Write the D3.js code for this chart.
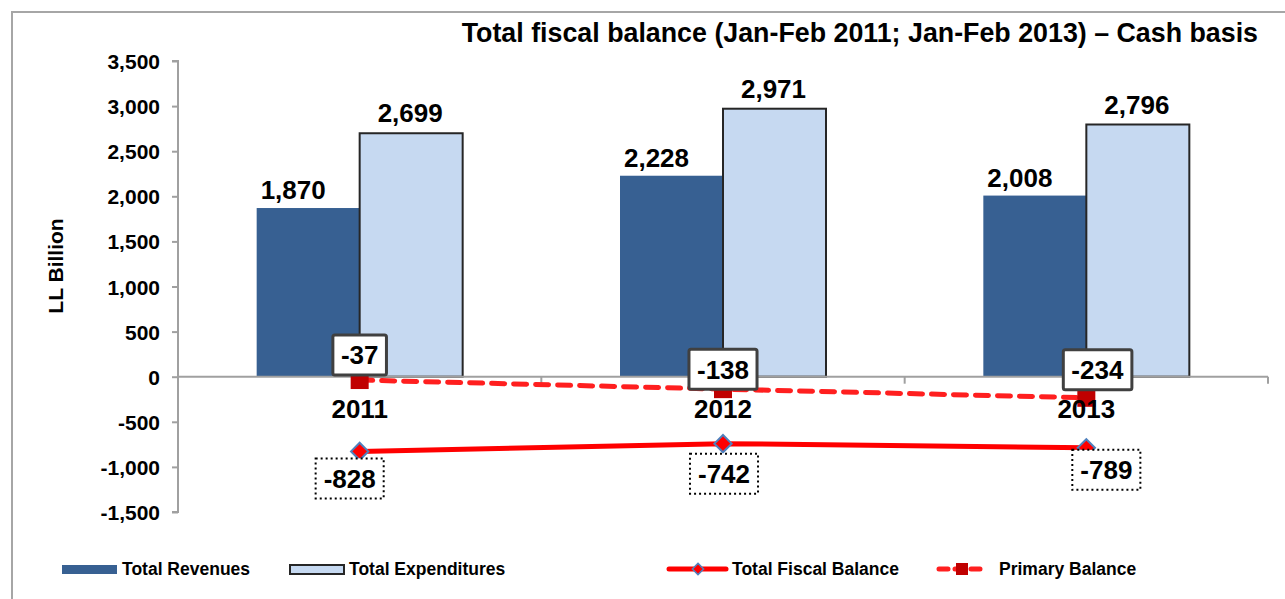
<!DOCTYPE html>
<html>
<head>
<meta charset="utf-8">
<script src="https://cdn.jsdelivr.net/npm/d3@7"></script>
<style>
  body { margin: 0; background: #fff; }
  svg text { font-family: "Liberation Sans", Arial, sans-serif; font-weight: bold; fill: #000; }
</style>
</head>
<body>
<div id="chart"></div>
<script>
// chart data
var years = ["2011", "2012", "2013"];
var revenues = [1870, 2228, 2008];
var expenditures = [2699, 2971, 2796];
var fiscalBalance = [-828, -742, -789];
var primaryBalance = [-37, -138, -234];
var yTicks = [3500, 3000, 2500, 2000, 1500, 1000, 500, 0, -500, -1000, -1500];
var legendNames = ["Total Revenues", "Total Expenditures", "Total Fiscal Balance", "Primary Balance"];

var W = 1285, H = 599;
var svg = d3.select("#chart").append("svg")
  .attr("width", W).attr("height", H);

// outer frame
svg.append("rect")
  .attr("x", 12).attr("y", 12).attr("width", W + 20).attr("height", H + 20)
  .attr("fill", "none").attr("stroke", "#a6a6a6").attr("stroke-width", 2);

var plotLeft = 178, plotRight = 1268, plotTop = 61, plotBottom = 512;

var x = d3.scaleBand().domain(years).range([plotLeft, plotRight]);
var y = d3.scaleLinear().domain([-1500, 3500]).range([plotBottom, plotTop]);
var comma = d3.format(",");
// plain hyphen for negatives, like the original
function fmt(v) { return comma(v).replace("\u2212", "-"); }

// title
svg.append("text")
  .attr("x", 1258).attr("y", 42)
  .attr("text-anchor", "end")
  .style("font-size", "26.8px")
  .text("Total fiscal balance (Jan-Feb 2011; Jan-Feb 2013) \u2013 Cash basis");

// y axis title
svg.append("text")
  .attr("transform", "translate(63,266) rotate(-90)")
  .attr("text-anchor", "middle")
  .style("font-size", "21px")
  .text("LL Billion");

// y axis
var yAxis = svg.append("g")
  .attr("transform", "translate(" + plotLeft + ",0)")
  .call(d3.axisLeft(y).tickValues(yTicks).tickSize(6).tickPadding(12).tickFormat(fmt));
yAxis.selectAll("path, line").attr("stroke", "#a0a0a0").attr("stroke-width", 2);
yAxis.select(".domain").attr("d", "M-6," + plotTop + "H0V" + plotBottom + "H-6");
yAxis.selectAll("text").style("font-size", "21px").attr("dy", "0.36em");

// bars
var barW = 103;
var groups = svg.selectAll(".cat").data(years).enter().append("g")
  .attr("class", "cat");

groups.append("rect")
  .attr("x", function(d) { return x(d) + x.bandwidth() / 2 - barW; })
  .attr("y", function(d, i) { return y(revenues[i]); })
  .attr("width", barW)
  .attr("height", function(d, i) { return y(0) - y(revenues[i]); })
  .attr("fill", "#376092");

groups.append("rect")
  .attr("x", function(d) { return x(d) + x.bandwidth() / 2; })
  .attr("y", function(d, i) { return y(expenditures[i]); })
  .attr("width", barW)
  .attr("height", function(d, i) { return y(0) - y(expenditures[i]); })
  .attr("fill", "#c6d9f1")
  .attr("stroke", "#262626").attr("stroke-width", 2);

groups.append("text")
  .attr("x", function(d) { return x(d) + x.bandwidth() / 2 - barW / 2 - 15; })
  .attr("y", function(d, i) { return y(revenues[i]) - 9; })
  .attr("text-anchor", "middle")
  .style("font-size", "26px")
  .text(function(d, i) { return fmt(revenues[i]); });

groups.append("text")
  .attr("x", function(d) { return x(d) + x.bandwidth() / 2 + barW / 2 - 1; })
  .attr("y", function(d, i) { return y(expenditures[i]) - 11; })
  .attr("text-anchor", "middle")
  .style("font-size", "26px")
  .text(function(d, i) { return fmt(expenditures[i]); });

// x axis at zero
var xAxis = svg.append("g").attr("transform", "translate(0," + y(0) + ")");
xAxis.append("line")
  .attr("x1", plotLeft).attr("x2", plotRight)
  .attr("stroke", "#a0a0a0").attr("stroke-width", 2);
xAxis.selectAll(".tk").data(years).enter().append("line")
  .attr("x1", function(d) { return x(d) + x.bandwidth(); })
  .attr("x2", function(d) { return x(d) + x.bandwidth(); })
  .attr("y1", 0).attr("y2", 7)
  .attr("stroke", "#a0a0a0").attr("stroke-width", 2);

function cx(d) { return x(d) + x.bandwidth() / 2; }

// total fiscal balance line
svg.append("path")
  .datum(years)
  .attr("fill", "none").attr("stroke", "#ff0000").attr("stroke-width", 5)
  .attr("d", d3.line().x(cx).y(function(d, i) { return y(fiscalBalance[i]); }));

// primary balance line
svg.append("path")
  .datum(years)
  .attr("fill", "none").attr("stroke", "#ff1f1f").attr("stroke-width", 5)
  .attr("stroke-dasharray", "13,9").attr("stroke-linecap", "round")
  .attr("d", d3.line().x(cx).y(function(d, i) { return y(primaryBalance[i]); }));

// markers
svg.selectAll(".dia").data(years).enter().append("path")
  .attr("d", d3.symbol().type(d3.symbolDiamond2).size(190))
  .attr("transform", function(d, i) { return "translate(" + cx(d) + "," + y(fiscalBalance[i]) + ")"; })
  .attr("fill", "#ff0000").attr("stroke", "#4f81bd").attr("stroke-width", 2);

svg.selectAll(".sq").data(years).enter().append("rect")
  .attr("x", function(d) { return cx(d) - 9; })
  .attr("y", function(d, i) { return y(primaryBalance[i]) - 9; })
  .attr("width", 18).attr("height", 18)
  .attr("fill", "#c00000");

// year labels (drawn over the markers)
svg.selectAll(".yr").data(years).enter().append("text")
  .attr("x", cx)
  .attr("y", y(0) + 41)
  .attr("text-anchor", "middle")
  .style("font-size", "26px")
  .text(function(d) { return d; });

// value boxes
function boxLabel(px, py, txt, solid) {
  var g = svg.append("g");
  var t = g.append("text")
    .attr("x", px).attr("y", py)
    .attr("text-anchor", "middle").attr("dy", "0.36em")
    .style("font-size", "26px")
    .text(fmt(txt));
  var bb = t.node().getBBox();
  var r = g.insert("rect", "text")
    .attr("x", bb.x - 8).attr("y", py - 20)
    .attr("width", bb.width + 16).attr("height", 40)
    .attr("fill", "#fff");
  if (solid) {
    r.attr("stroke", "#404040").attr("stroke-width", 3).attr("rx", 2);
  } else {
    r.attr("stroke", "#000").attr("stroke-width", 2).attr("stroke-dasharray", "2,3");
  }
}

// label nudges (layout only)
var primaryNudge = [[0, -25], [0, -20], [11, -28]];
var fiscalNudge = [[-10, 27], [1, 30], [20, 22]];
years.forEach(function(d, i) {
  boxLabel(cx(d) + primaryNudge[i][0], y(primaryBalance[i]) + primaryNudge[i][1], primaryBalance[i], true);
  boxLabel(cx(d) + fiscalNudge[i][0], y(fiscalBalance[i]) + fiscalNudge[i][1], fiscalBalance[i], false);
});

// legend
var ly = 569;
var leg = svg.append("g");
leg.append("rect").attr("x", 62).attr("y", ly - 4).attr("width", 55).attr("height", 9).attr("fill", "#376092");
leg.append("rect").attr("x", 290).attr("y", ly - 4).attr("width", 54).attr("height", 9)
  .attr("fill", "#c6d9f1").attr("stroke", "#262626").attr("stroke-width", 2);
leg.append("line").attr("x1", 669).attr("x2", 726).attr("y1", ly).attr("y2", ly)
  .attr("stroke", "#ff0000").attr("stroke-width", 5).attr("stroke-linecap", "round");
leg.append("path").attr("d", d3.symbol().type(d3.symbolDiamond2).size(80))
  .attr("transform", "translate(698," + ly + ")")
  .attr("fill", "#ff0000").attr("stroke", "#4f81bd").attr("stroke-width", 1.5);
leg.append("line").attr("x1", 939).attr("x2", 986).attr("y1", ly).attr("y2", ly)
  .attr("stroke", "#ff1f1f").attr("stroke-width", 5).attr("stroke-linecap", "round")
  .attr("stroke-dasharray", "9,7");
leg.append("rect").attr("x", 956).attr("y", ly - 6).attr("width", 12).attr("height", 12).attr("fill", "#c00000");

var legX = [122, 349, 732, 999];
leg.selectAll(".lt").data(legendNames).enter().append("text")
  .attr("x", function(d, i) { return legX[i]; })
  .attr("y", ly).attr("dy", "0.36em")
  .style("font-size", "17.5px")
  .text(function(d) { return d; });
</script>
</body>
</html>
